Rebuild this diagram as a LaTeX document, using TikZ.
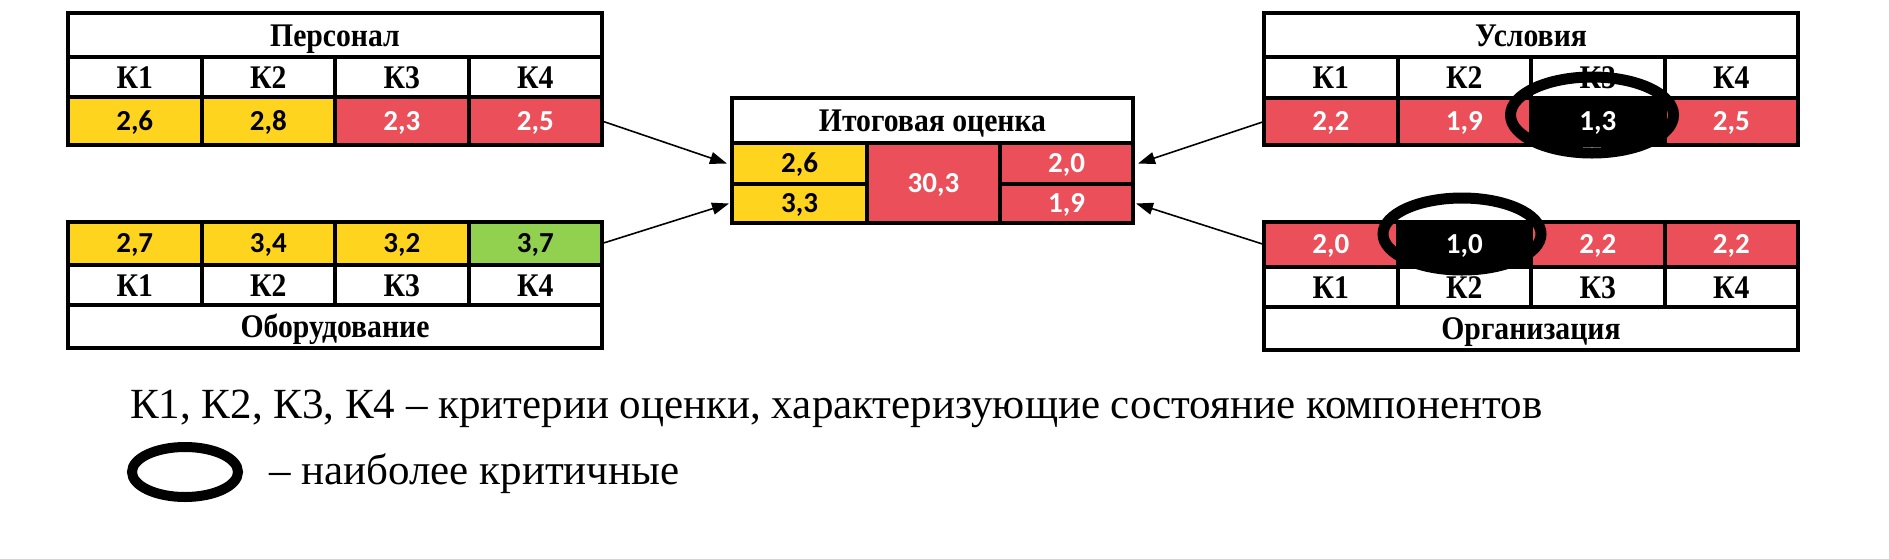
\documentclass[tikz,border=0pt]{standalone}
\usepackage{fontspec}
\setmainfont{Liberation Serif}
\newfontfamily\numfont{Carlito}
\newfontfamily\headfont[FakeStretch=0.9]{Liberation Serif}
\usetikzlibrary{arrows.meta,shapes.geometric}
\definecolor{cyel}{RGB}{255,212,30}
\definecolor{cred}{RGB}{235,80,90}
\definecolor{cgrn}{RGB}{146,208,80}
\tikzset{
 cell/.style={draw=black, line width=4pt, inner sep=0pt, outer sep=0pt, anchor=center},
 head/.style={cell, fill=white, font=\headfont\fontsize{33}{36}\selectfont\bfseries, text height=22pt, text depth=0pt},
 num/.style={cell, font=\numfont\fontsize{29}{32}\selectfont\bfseries, text height=18pt, text depth=0pt},
 ylw/.style={num, fill=cyel, text=black},
 rd/.style={num, fill=cred, text=white},
 gr/.style={num, fill=cgrn, text=black},
 blk/.style={num, fill=black, text=white},
 arr/.style={line width=1.6pt, -{Triangle[length=17pt,width=12pt]}},
 ring/.style={draw=black, ellipse, line width=11pt, inner sep=0pt},
 legend/.style={font=\fontsize{43}{48}\selectfont, inner sep=0pt, anchor=base west}
}
\begin{document}
\begin{tikzpicture}[x=1pt,y=-1pt]
\useasboundingbox (0,0) rectangle (1889,558);
% ---- Персонал
\node[head, minimum width=534pt, minimum height=44pt] (Ph) at (335,35) {Персонал};
\node[head, minimum width=133.5pt, minimum height=40pt] (P1k) at (134.75,77) {К1};
\node[head, minimum width=133.5pt, minimum height=40pt] (P2k) at (268.25,77) {К2};
\node[head, minimum width=133.5pt, minimum height=40pt] (P3k) at (401.75,77) {К3};
\node[head, minimum width=133.5pt, minimum height=40pt] (P4k) at (535.25,77) {К4};
\node[ylw, minimum width=133.5pt, minimum height=48pt] (P1v) at (134.75,121) {2,6};
\node[ylw, minimum width=133.5pt, minimum height=48pt] (P2v) at (268.25,121) {2,8};
\node[rd, minimum width=133.5pt, minimum height=48pt] (P3v) at (401.75,121) {2,3};
\node[rd, minimum width=133.5pt, minimum height=48pt] (P4v) at (535.25,121) {2,5};
% ---- Оборудование
\node[ylw, minimum width=133.5pt, minimum height=43pt] (O1v) at (134.75,243.5) {2,7};
\node[ylw, minimum width=133.5pt, minimum height=43pt] (O2v) at (268.25,243.5) {3,4};
\node[ylw, minimum width=133.5pt, minimum height=43pt] (O3v) at (401.75,243.5) {3,2};
\node[gr, minimum width=133.5pt, minimum height=43pt] (O4v) at (535.25,243.5) {3,7};
\node[head, minimum width=133.5pt, minimum height=40pt] (O1k) at (134.75,285) {К1};
\node[head, minimum width=133.5pt, minimum height=40pt] (O2k) at (268.25,285) {К2};
\node[head, minimum width=133.5pt, minimum height=40pt] (O3k) at (401.75,285) {К3};
\node[head, minimum width=133.5pt, minimum height=40pt] (O4k) at (535.25,285) {К4};
\node[head, minimum width=534pt, minimum height=43pt] (Oh) at (335,326.5) {Оборудование};
% ---- Условия
\node[head, minimum width=534pt, minimum height=44pt] (Uh) at (1531,35) {Условия};
\node[head, minimum width=133.5pt, minimum height=41pt] (U1k) at (1330.75,77.5) {К1};
\node[head, minimum width=133.5pt, minimum height=41pt] (U2k) at (1464.25,77.5) {К2};
\node[head, minimum width=133.5pt, minimum height=41pt] (U3k) at (1597.75,77.5) {К3};
\node[head, minimum width=133.5pt, minimum height=41pt] (U4k) at (1731.25,77.5) {К4};
\node[rd, minimum width=133.5pt, minimum height=47pt] (U1v) at (1330.75,121.5) {2,2};
\node[rd, minimum width=133.5pt, minimum height=47pt] (U2v) at (1464.25,121.5) {1,9};
\node[blk, minimum width=133.5pt, minimum height=47pt] (U3v) at (1597.75,121.5) {1,3};
\node[rd, minimum width=133.5pt, minimum height=47pt] (U4v) at (1731.25,121.5) {2,5};
% ---- Организация
\node[rd, minimum width=133.5pt, minimum height=45pt] (R1v) at (1330.75,244.5) {2,0};
\node[blk, minimum width=133.5pt, minimum height=45pt] (R2v) at (1464.25,244.5) {1,0};
\node[rd, minimum width=133.5pt, minimum height=45pt] (R3v) at (1597.75,244.5) {2,2};
\node[rd, minimum width=133.5pt, minimum height=45pt] (R4v) at (1731.25,244.5) {2,2};
\node[head, minimum width=133.5pt, minimum height=40pt] (R1k) at (1330.75,287) {К1};
\node[head, minimum width=133.5pt, minimum height=40pt] (R2k) at (1464.25,287) {К2};
\node[head, minimum width=133.5pt, minimum height=40pt] (R3k) at (1597.75,287) {К3};
\node[head, minimum width=133.5pt, minimum height=40pt] (R4k) at (1731.25,287) {К4};
\node[head, minimum width=534pt, minimum height=43pt] (Rh) at (1531,328.5) {Организация};
% ---- Итоговая оценка
\node[head, minimum width=401pt, minimum height=45pt] (Mh) at (932.5,120.5) {Итоговая оценка};
\node[ylw, minimum width=135pt, minimum height=41pt] (M21) at (799.5,163.5) {2,6};
\node[ylw, minimum width=135pt, minimum height=39pt] (M22) at (799.5,203.5) {3,3};
\node[rd, minimum width=133pt, minimum height=80pt] (Mc) at (933.5,183) {30,3};
\node[rd, minimum width=133pt, minimum height=41pt] (M31) at (1066.5,163.5) {2,0};
\node[rd, minimum width=133pt, minimum height=39pt] (M32) at (1066.5,203.5) {1,9};
% ---- rings
\node[ring, minimum width=163pt, minimum height=76pt] (ringU) at (1592,115) {};
\node[ring, minimum width=158pt, minimum height=72pt] (ringR) at (1462,234) {};
% ---- arrows
\draw[arr] (P4v.east) -- ([xshift=-5pt]M21.west);
\draw[arr] (O4v.east) -- ([xshift=-3pt]M22.west);
\draw[arr] (U1v.west) -- ([xshift=5pt]M31.east);
\draw[arr] (R1v.west) -- ([xshift=3pt]M32.east);
% ---- legend
\node[legend] (L1) at (130,418) {К1, К2, К3, К4 – критерии оценки, характеризующие состояние компонентов};
\node[ring, line width=10pt, minimum width=106pt, minimum height=50pt] (ringL) at (185,472) {};
\node[legend] (L2) at (269,484) {– наиболее критичные};
\end{tikzpicture}
\end{document}
